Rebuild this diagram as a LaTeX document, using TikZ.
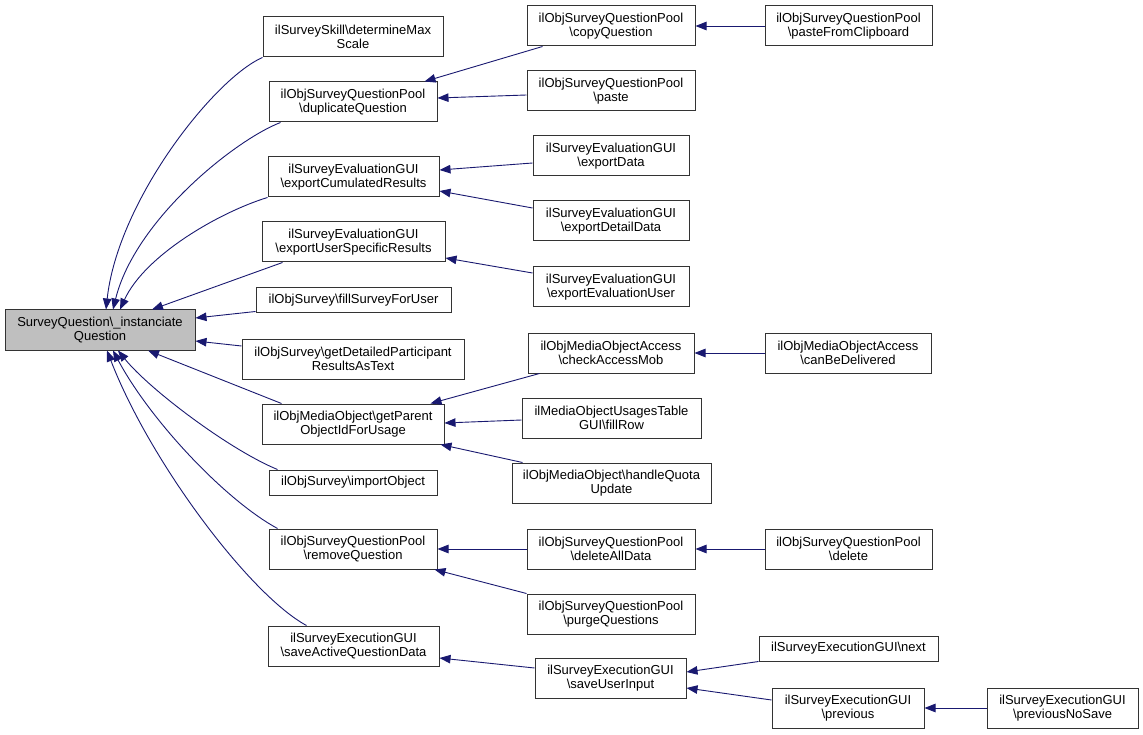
\documentclass[tikz,border=0pt]{standalone}
\usepackage{fontspec}
\setmainfont{Liberation Sans}
\usetikzlibrary{arrows.meta,calc}
\newcommand{\BSL}{\textbackslash{}}
\definecolor{edgec}{HTML}{191970}
\definecolor{rootfill}{HTML}{BFBFBF}
\definecolor{boxline}{HTML}{333333}
\begin{document}
\begin{tikzpicture}[x=1pt,y=-1pt,
  box/.style={draw=boxline, line width=1pt, fill=white, inner sep=0pt, align=center, font=\fontsize{13}{13.5}\selectfont},
  edge/.style={draw=edgec, line width=0.9pt, -{Triangle[length=11pt,width=8.5pt]}}]
\useasboundingbox (0,0) rectangle (1143,735);
% root
\node[box, fill=rootfill, minimum width=190pt, minimum height=40pt] (root) at (100,330) {SurveyQuestion\BSL\_instanciate\\Question};
% column 2
\node[box, minimum width=180pt, minimum height=40pt] (dms) at (353,37) {ilSurveySkill\BSL determineMax\\Scale};
\node[box, minimum width=168pt, minimum height=40pt] (dup) at (353,102) {ilObjSurveyQuestionPool\\\BSL duplicateQuestion};
\node[box, minimum width=171pt, minimum height=40pt] (ecr) at (353.5,177) {ilSurveyEvaluationGUI\\\BSL exportCumulatedResults};
\node[box, minimum width=183pt, minimum height=40pt] (eus) at (353.5,242) {ilSurveyEvaluationGUI\\\BSL exportUserSpecificResults};
\node[box, minimum width=195pt, minimum height=25pt] (fsu) at (353.5,300.5) {ilObjSurvey\BSL fillSurveyForUser};
\node[box, minimum width=222pt, minimum height=40pt] (gdp) at (353,359) {ilObjSurvey\BSL getDetailedParticipant\\ResultsAsText};
\node[box, minimum width=182pt, minimum height=40pt] (gpo) at (353,424) {ilObjMediaObject\BSL getParent\\ObjectIdForUsage};
\node[box, minimum width=168pt, minimum height=25pt] (imp) at (353,482.5) {ilObjSurvey\BSL importObject};
\node[box, minimum width=168pt, minimum height=40pt] (rmq) at (353,549) {ilObjSurveyQuestionPool\\\BSL removeQuestion};
\node[box, minimum width=171pt, minimum height=40pt] (saq) at (353.5,646) {ilSurveyExecutionGUI\\\BSL saveActiveQuestionData};
% column 3
\node[box, minimum width=168pt, minimum height=40pt] (cpq) at (611,26) {ilObjSurveyQuestionPool\\\BSL copyQuestion};
\node[box, minimum width=168pt, minimum height=40pt] (pst) at (611,91) {ilObjSurveyQuestionPool\\\BSL paste};
\node[box, minimum width=156pt, minimum height=40pt] (exd) at (611,156) {ilSurveyEvaluationGUI\\\BSL exportData};
\node[box, minimum width=156pt, minimum height=40pt] (edd) at (611,221) {ilSurveyEvaluationGUI\\\BSL exportDetailData};
\node[box, minimum width=156pt, minimum height=40pt] (eeu) at (611,287) {ilSurveyEvaluationGUI\\\BSL exportEvaluationUser};
\node[box, minimum width=166pt, minimum height=40pt] (cam) at (611,353) {ilObjMediaObjectAccess\\\BSL checkAccessMob};
\node[box, minimum width=179pt, minimum height=40pt] (frw) at (611.5,418) {ilMediaObjectUsagesTable\\GUI\BSL fillRow};
\node[box, minimum width=199pt, minimum height=40pt] (hqu) at (611.5,483) {ilObjMediaObject\BSL handleQuota\\Update};
\node[box, minimum width=168pt, minimum height=40pt] (dad) at (611,549) {ilObjSurveyQuestionPool\\\BSL deleteAllData};
\node[box, minimum width=168pt, minimum height=40pt] (pgq) at (611,614) {ilObjSurveyQuestionPool\\\BSL purgeQuestions};
\node[box, minimum width=151pt, minimum height=40pt] (sui) at (610.5,678) {ilSurveyExecutionGUI\\\BSL saveUserInput};
% column 4
\node[box, minimum width=167pt, minimum height=40pt] (pfc) at (848.5,26) {ilObjSurveyQuestionPool\\\BSL pasteFromClipboard};
\node[box, minimum width=166pt, minimum height=40pt] (cbd) at (848,353) {ilObjMediaObjectAccess\\\BSL canBeDelivered};
\node[box, minimum width=167pt, minimum height=40pt] (del) at (848.5,549) {ilObjSurveyQuestionPool\\\BSL delete};
\node[box, minimum width=179pt, minimum height=25pt] (nxt) at (848.5,648.5) {ilSurveyExecutionGUI\BSL next};
\node[box, minimum width=152pt, minimum height=40pt] (prv) at (848,708) {ilSurveyExecutionGUI\\\BSL previous};
% column 5
\node[box, minimum width=151pt, minimum height=40pt] (pns) at (1062.5,708) {ilSurveyExecutionGUI\\\BSL previousNoSave};
% edges into root
\draw[edge] (dms.south west) .. controls (215,78) and (118,200) .. ($(root.north)+(6,0)$);
\draw[edge] ($(dup.south west)+(12,0)$) .. controls (235,140) and (135,220) .. ($(root.north)+(13,0)$);
\draw[edge] (ecr.south west) .. controls (220,212) and (145,255) .. ($(root.north)+(20,0)$);
\draw[edge] ($(eus.south west)+(21,0)$) -- ($(root.north)+(52,0)$);
\draw[edge] ($(fsu.south west)+(0,-2)$) -- ($(root.east)+(0,-12)$);
\draw[edge] ($(gdp.west)+(0,-13)$) -- ($(root.east)+(0,11)$);
\draw[edge] ($(gpo.north west)+(20,0)$) -- ($(root.south)+(48,0)$);
\draw[edge] ($(imp.north west)+(9,0)$) .. controls (230,450) and (150,390) .. ($(root.south)+(18,0)$);
\draw[edge] ($(rmq.north west)+(9,0)$) .. controls (225,500) and (150,420) .. ($(root.south)+(13,0)$);
\draw[edge] ($(saq.north west)+(39,0)$) .. controls (250,595) and (150,462) .. ($(root.south)+(7,0)$);
% column 3 -> column 2
\draw[edge] ($(cpq.south west)+(16,0)$) -- ($(dup.north east)+(-13,0)$);
\draw[edge] ($(pst.west)+(0,4)$) -- ($(dup.east)+(0,-4)$);
\draw[edge] ($(exd.west)+(0,7)$) -- ($(ecr.east)+(0,-7)$);
\draw[edge] ($(edd.west)+(0,-13)$) -- ($(ecr.east)+(0,14)$);
\draw[edge] ($(eeu.west)+(0,-14)$) -- ($(eus.east)+(0,16)$);
\draw[edge] ($(cam.south west)+(12,0)$) -- ($(gpo.north east)+(-14,0)$);
\draw[edge] ($(frw.west)+(0,2)$) -- ($(gpo.east)+(0,-1)$);
\draw[edge] ($(hqu.north west)+(11,0)$) -- ($(gpo.south east)+(-4,0)$);
\draw[edge] (dad.west) -- (rmq.east);
\draw[edge] (pgq.north west) -- ($(rmq.south east)+(-3,0)$);
\draw[edge] ($(sui.west)+(0,-10)$) -- ($(saq.east)+(0,12)$);
% column 4 -> column 3
\draw[edge] (pfc.west) -- (cpq.east);
\draw[edge] (cbd.west) -- (cam.east);
\draw[edge] (del.west) -- (dad.east);
\draw[edge] (nxt.south west) -- ($(sui.east)+(0,-6)$);
\draw[edge] ($(prv.west)+(0,-8)$) -- ($(sui.east)+(0,10)$);
\draw[edge] (pns.west) -- (prv.east);
\end{tikzpicture}
\end{document}
